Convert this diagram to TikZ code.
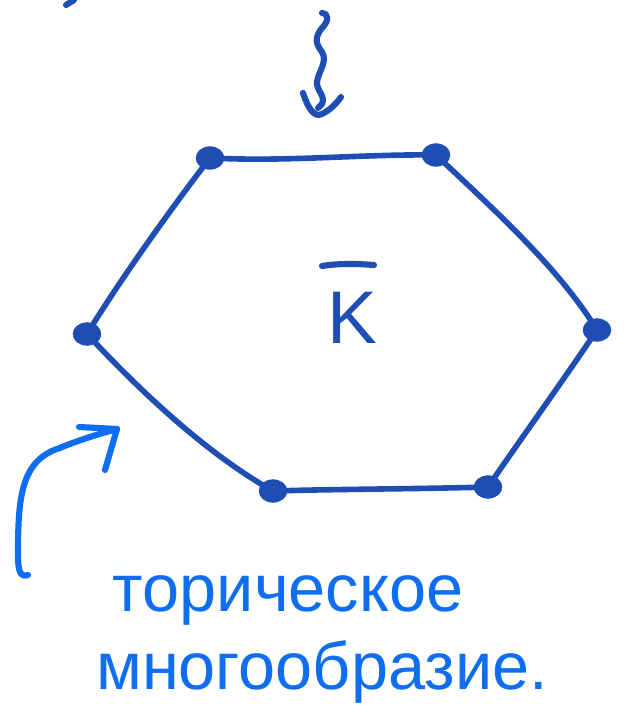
\documentclass[tikz,border=0pt]{standalone}
\usepackage{fontspec}
\setmainfont{Liberation Sans}
\usetikzlibrary{shapes.geometric}
\definecolor{hexblue}{HTML}{1E4DB3}
\definecolor{penblue}{HTML}{0F6EF0}
\tikzset{
  edge/.style={draw=hexblue,line width=4.2pt,line cap=round,line join=round},
  vdot/.style={ellipse,fill=hexblue,draw=hexblue,inner sep=0pt,minimum width=21pt,minimum height=17pt},
  pen/.style={draw=penblue,line width=4.6pt,line cap=round,line join=round},
  penthick/.style={draw=hexblue,line width=4.6pt,line cap=round,line join=round},
  handtext/.style={text=penblue,font=\fontsize{50}{56}\selectfont,inner sep=0pt}
}
\begin{document}
\begin{tikzpicture}[x=0.75pt,y=-0.75pt]
\useasboundingbox (0,0) rectangle (625,727);
% vertices
\coordinate (A) at (210,158);
\coordinate (B) at (436,155);
\coordinate (C) at (597,330);
\coordinate (D) at (488,487);
\coordinate (E) at (273,491);
\coordinate (F) at (87,334);
% edges
\draw[edge] (A) .. controls (290,162) and (360,154) .. (B);
\draw[edge] (B) .. controls (500,215) and (560,270) .. (C);
\draw[edge] (C) .. controls (560,385) and (520,440) .. (D);
\draw[edge] (D) .. controls (420,489) and (340,489) .. (E);
\draw[edge] (E) .. controls (200,450) and (130,380) .. (F);
\draw[edge] (F) .. controls (120,280) and (170,210) .. (A);
% vertex dots
\node[vdot] (a) at (A) {};
\node[vdot] (b) at (B) {};
\node[vdot] (c) at (C) {};
\node[vdot] (d) at (D) {};
\node[vdot] (e) at (E) {};
\node[vdot] (f) at (F) {};
% label
\node[text=hexblue,font=\fontsize{56}{60}\selectfont,inner sep=0pt] (k) at (352,318) {K};
\draw[penthick] (322,266) .. controls (340,263) and (360,264) .. (374,265);
% squiggle arrow from top
\coordinate (s0) at (322,13);
\coordinate (s1) at (318,108);
\draw[penthick] (s0) .. controls (330,14) and (328,22) .. (322,28)
  .. controls (314,38) and (316,44) .. (322,52)
  .. controls (328,62) and (318,72) .. (317,82)
  .. controls (316,90) and (326,96) .. (322,104)
  -- (s1);
\draw[penthick] (303,93) .. controls (308,108) and (314,118) .. (322,114) .. controls (330,110) and (336,104) .. (341,97);
% top-left stroke
\draw[penthick] (66,5) -- (74,0);
% curved arrow
\coordinate (t0) at (28,575);
\coordinate (t1) at (117,429);
\draw[pen] (t0) .. controls (20,578) and (18,570) .. (18,555)
  .. controls (18,500) and (20,460) .. (60,448) -- (62,447)
  .. controls (80,440) and (95,435) .. (t1);
\draw[pen] (79,427) -- (t1) -- (105,470);
% text
\node[handtext] (t) at (288,600) {торическое};
\node[handtext] (m) at (322,672) {многообразие.};
\end{tikzpicture}
\end{document}
